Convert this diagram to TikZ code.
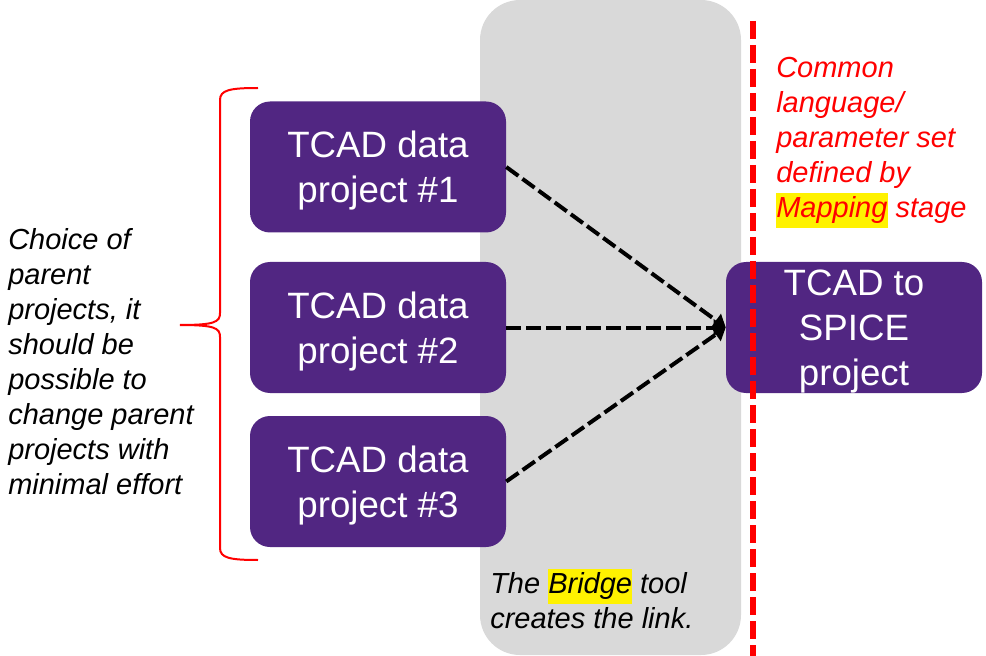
\documentclass[tikz,border=0pt]{standalone}
\usepackage{fontspec}
\setmainfont{Liberation Sans}
\usepackage{tikz}
\usetikzlibrary{arrows.meta}
\definecolor{projpurple}{RGB}{81,38,130}
\definecolor{bridgegray}{RGB}{217,217,217}
\newcommand{\hlword}[1]{{\setlength{\fboxsep}{0pt}\colorbox{yellow}{\strut #1}}}

\begin{document}
\begin{tikzpicture}[x=0.75pt,y=-0.75pt,
	project/.style={fill=projpurple,rounded corners=15pt,text=white,minimum width=192pt,minimum height=98.25pt,align=center,inner sep=0pt,text depth=0pt,font=\fontsize{27.5}{33.75}\selectfont},
	note/.style={anchor=west,align=left,inner sep=0pt,font=\fontsize{21.75}{26.25}\selectfont\itshape},
	link/.style={line width=3pt,dash pattern=on 11.25pt off 3.75pt,-{Triangle[length=9pt,width=12pt]}}]
	\useasboundingbox (0,0) rectangle (986,656);
	\fill[bridgegray,rounded corners=30pt] (480,0) rectangle (741,655);
	\node[project] (tcad1) at (378,167) {TCAD data\\project \#1};
	\node[project] (tcad2) at (378,327.5) {TCAD data\\project \#2};
	\node[project] (tcad3) at (378,481.5) {TCAD data\\project \#3};
	\node[project] (spice) at (854,327.5) {TCAD to\\SPICE\\project};
	\draw[link] (tcad1.east) -- (spice.west);
	\draw[link] (tcad2.east) -- (spice.west);
	\draw[link] (tcad3.east) -- (spice.west);
	\draw[red,line width=4.5pt,dash pattern=on 13.5pt off 4.5pt] (753,21) -- (753,656);
	\node[note,text=red] (common) at (776,143) {Common\\language/\\parameter set\\defined by\\\hlword{Mapping} stage};
	\node[note] (bridge) at (490,599) {The \hlword{Bridge} tool\\creates the link.};
	\node[note] (choice) at (8,362) {Choice of\\parent\\projects, it\\should be\\possible to\\change parent\\projects with\\minimal effort};
	\draw[red,line width=1.5pt] (258,88) .. controls (230,88) and (220,90) .. (220,100) -- (220,313) .. controls (220,322) and (215,325) .. (180,325) .. controls (215,325) and (220,328) .. (220,337) -- (220,548) .. controls (220,558) and (230,560) .. (258,560);
\end{tikzpicture}
\end{document}
